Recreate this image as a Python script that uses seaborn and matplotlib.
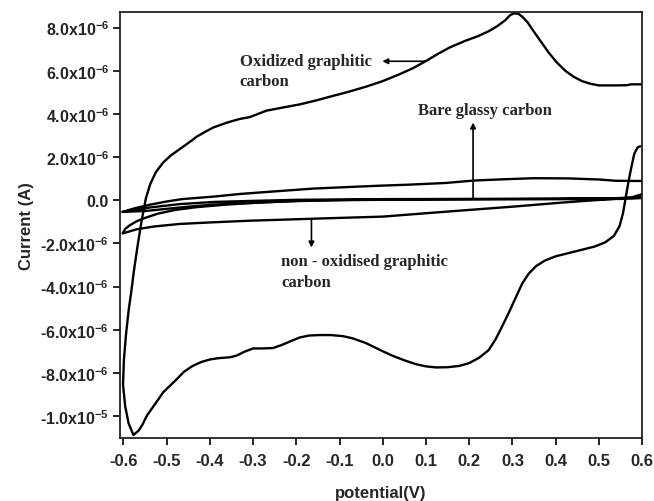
import matplotlib
matplotlib.use("Agg")
import matplotlib.pyplot as plt
import numpy as np
import pandas as pd
import seaborn as sns

# ---------------- data (potential in V, current in microampere) ----------------
ox_potential = [0.596, 0.590, 0.582, 0.575, 0.569, 0.562, 0.556, 0.548, 0.535, 0.515, 0.49, 0.46,
                0.42, 0.40, 0.375, 0.355, 0.338, 0.323, 0.308, 0.292, 0.275, 0.261, 0.245, 0.223,
                0.2, 0.177, 0.15, 0.123, 0.1, 0.077, 0.05, 0.023, 0.0, -0.039, -0.07, -0.092,
                -0.12, -0.146, -0.17, -0.192, -0.215, -0.235, -0.254, -0.28, -0.30, -0.32, -0.338,
                -0.354, -0.38, -0.40, -0.42, -0.439, -0.46, -0.477, -0.495, -0.508, -0.527, -0.546,
                -0.556, -0.565, -0.577, -0.588, -0.596, -0.601, -0.599, -0.594, -0.588, -0.582,
                -0.576, -0.568, -0.558, -0.548, -0.538, -0.525, -0.508, -0.49, -0.469, -0.45,
                -0.43, -0.41, -0.392, -0.36, -0.33, -0.308, -0.269, -0.23, -0.192, -0.155, -0.116,
                -0.08, -0.039, 0.0, 0.038, 0.07, 0.100, 0.125, 0.154, 0.19, 0.22, 0.246, 0.266,
                0.284, 0.295, 0.304, 0.314, 0.323, 0.335, 0.346, 0.365, 0.384, 0.403, 0.423, 0.442,
                0.461, 0.48, 0.50, 0.538, 0.565, 0.575, 0.60]
ox_current = [2.50, 2.45, 2.15, 1.5, 0.9, 0.1, -0.6, -1.2, -1.65, -1.95, -2.15, -2.3,
              -2.5, -2.6, -2.8, -3.05, -3.4, -3.85, -4.5, -5.2, -5.9, -6.45, -6.95, -7.3,
              -7.55, -7.68, -7.74, -7.75, -7.7, -7.6, -7.42, -7.21, -7.0, -6.62, -6.4, -6.3,
              -6.25, -6.25, -6.27, -6.36, -6.55, -6.72, -6.85, -6.87, -6.87, -7.02, -7.2,
              -7.28, -7.32, -7.38, -7.5, -7.67, -7.95, -8.3, -8.65, -8.9, -9.45, -9.99,
              -10.4, -10.68, -10.88, -10.35, -9.55, -8.55, -7.4, -6.2, -5.1, -4.25,
              -3.3, -2.2, -0.95, 0.1, 0.75, 1.3, 1.75, 2.08, 2.38, 2.65,
              2.95, 3.18, 3.37, 3.6, 3.77, 3.85, 4.15, 4.3, 4.44, 4.62, 4.83,
              5.02, 5.26, 5.52, 5.83, 6.12, 6.45, 6.75, 7.07, 7.38, 7.6, 7.84, 8.08,
              8.35, 8.58, 8.66, 8.64, 8.5, 8.25, 7.92, 7.38, 6.84, 6.38, 5.99, 5.72,
              5.52, 5.4, 5.32, 5.32, 5.33, 5.37, 5.37]

nonox_potential = [0.600, 0.54, 0.50, 0.43, 0.35, 0.28, 0.21, 0.146, 0.06, -0.01, -0.08, -0.16,
                   -0.27, -0.33, -0.39, -0.465, -0.50, -0.542, -0.575, -0.602,
                   -0.55, -0.5, -0.45, -0.39, -0.3, -0.2, -0.1, 0.0, 0.2, 0.4, 0.5, 0.58, 0.6,
                   0.58, 0.4, 0.2, 0.0, -0.196, -0.3, -0.39, -0.47, -0.54, -0.602]
nonox_current = [0.89, 0.90, 0.96, 1.01, 1.02, 0.97, 0.91, 0.80, 0.72, 0.67, 0.61, 0.54,
                 0.38, 0.29, 0.17, 0.05, -0.06, -0.22, -0.38, -0.54,
                 -0.5, -0.4, -0.3, -0.2, -0.12, -0.04, 0.0, 0.02, 0.04, 0.06, 0.07, 0.12, 0.15,
                 0.1, 0.07, 0.06, 0.05, 0.02, -0.03, -0.08, -0.18, -0.34, -0.54]

bare_potential = [0.6, 0.576, 0.53, 0.49, 0.415, 0.3, 0.154, 0.0, -0.1, -0.165, -0.308, -0.40,
                  -0.47, -0.53, -0.57, -0.602, -0.596, -0.586, -0.57, -0.55, -0.52, -0.48,
                  -0.43, -0.36, -0.28, -0.196, -0.1, 0.0, 0.2, 0.4, 0.55, 0.6]
bare_current = [0.28, 0.13, 0.05, 0.0, -0.11, -0.3, -0.52, -0.76, -0.82, -0.86, -0.95, -1.03,
                -1.1, -1.22, -1.35, -1.54, -1.33, -1.17, -0.98, -0.82, -0.62, -0.45,
                -0.32, -0.2, -0.1, -0.03, 0.01, 0.04, 0.05, 0.05, 0.06, 0.1]

x_ticks = [-0.6, -0.5, -0.4, -0.3, -0.2, -0.1, 0.0, 0.1, 0.2, 0.3, 0.4, 0.5, 0.6]
x_tick_labels = ["-0.6", "-0.5", "-0.4", "-0.3", "-0.2", "-0.1", "0.0", "0.1", "0.2", "0.3",
                 "0.4", "0.5", "0.6"]
y_ticks = [8e-6, 6e-6, 4e-6, 2e-6, 0.0, -2e-6, -4e-6, -6e-6, -8e-6, -1e-5]
y_tick_labels = ["8.0x10$^{-6}$", "6.0x10$^{-6}$", "4.0x10$^{-6}$", "2.0x10$^{-6}$", "0.0",
                 "-2.0x10$^{-6}$", "-4.0x10$^{-6}$", "-6.0x10$^{-6}$", "-8.0x10$^{-6}$",
                 "-1.0x10$^{-5}$"]

# ---------------- build long-form table ----------------
frames = []
for name, xs, ys in [("Oxidized graphitic carbon", ox_potential, ox_current),
                     ("non - oxidised graphitic carbon", nonox_potential, nonox_current),
                     ("Bare glassy carbon", bare_potential, bare_current)]:
    frames.append(pd.DataFrame({"series": name,
                                "potential": xs,
                                "current": np.array(ys) * 1e-6}))
df = pd.concat(frames, ignore_index=True)

# ---------------- style ----------------
sns.set_style("ticks")
plt.rcParams["font.family"] = ["Liberation Sans", "DejaVu Sans"]
plt.rcParams["mathtext.fontset"] = "custom"
plt.rcParams["mathtext.rm"] = "Liberation Sans:bold"
plt.rcParams["mathtext.it"] = "Liberation Sans:bold"
plt.rcParams["mathtext.bf"] = "Liberation Sans:bold"
plt.rcParams["mathtext.default"] = "rm"

fig, ax = plt.subplots(figsize=(6.54, 5.02), dpi=100)
fig.subplots_adjust(left=0.1835, right=0.9817, top=0.974, bottom=0.1255)

sns.lineplot(data=df, x="potential", y="current", units="series", estimator=None,
             sort=False, color="black", linewidth=1.7, ax=ax, legend=False)

ax.set_xlim(-0.608, 0.6)
ax.set_ylim(-1.102e-5, 8.72e-6)

ax.set_xticks(x_ticks)
ax.set_xticklabels(x_tick_labels, fontweight="bold", fontsize=12)
ax.set_yticks(y_ticks)
ax.set_yticklabels(y_tick_labels, fontweight="bold", fontsize=11.5)
ax.tick_params(axis="both", direction="out", length=5, width=1.2, color="black")
ax.tick_params(axis="x", pad=6)
ax.tick_params(axis="y", pad=3)

for s in ax.spines.values():
    s.set_visible(True)
    s.set_linewidth(1.3)
    s.set_color("#222222")

ax.set_xlabel("potential(V)", fontweight="bold", fontsize=12, labelpad=12)
ax.set_ylabel("Current (A)", fontweight="bold", fontsize=12, labelpad=4)

serif = ["Liberation Serif", "DejaVu Serif"]
ann_fs = 12

ax.text(-0.331, 5.97e-6, "Oxidized graphitic\ncarbon", family=serif, fontweight="bold",
        fontsize=ann_fs, ha="left", va="center", linespacing=1.35)
ax.annotate("", xy=(-0.001, 6.44e-6), xytext=(0.101, 6.44e-6),
            arrowprops=dict(arrowstyle="-|>", color="black", lw=1.2, mutation_scale=8,
                            shrinkA=0, shrinkB=0))

ax.text(0.0805, 4.18e-6, "Bare glassy carbon", family=serif, fontweight="bold",
        fontsize=ann_fs, ha="left", va="center")
ax.annotate("", xy=(0.209, 3.6e-6), xytext=(0.209, 0.08e-6),
            arrowprops=dict(arrowstyle="-|>", color="black", lw=1.2, mutation_scale=8,
                            shrinkA=0, shrinkB=0))

ax.text(-0.2346, -3.30e-6, "non - oxidised graphitic\ncarbon", family=serif, fontweight="bold",
        fontsize=ann_fs, ha="left", va="center", linespacing=1.35)
ax.annotate("", xy=(-0.165, -2.19e-6), xytext=(-0.165, -0.88e-6),
            arrowprops=dict(arrowstyle="-|>", color="black", lw=1.2, mutation_scale=8,
                            shrinkA=0, shrinkB=0))

fig.savefig("out.png", dpi=100)
